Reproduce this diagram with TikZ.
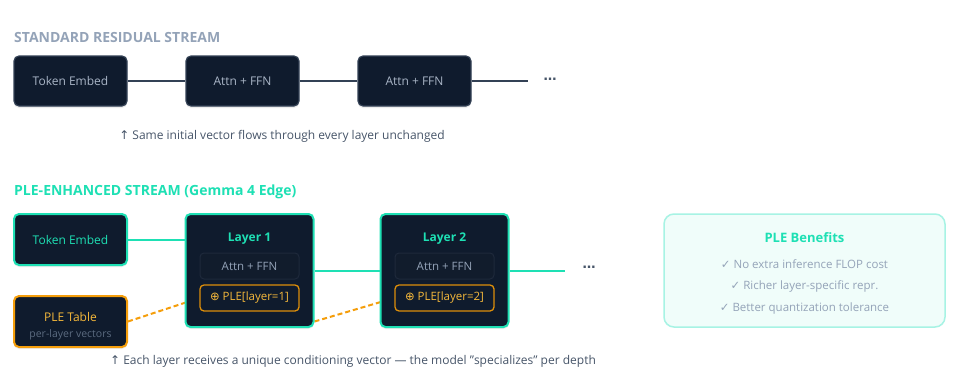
\documentclass[tikz,border=0pt]{standalone}
\usepackage{fontspec}
\setmainfont{Open Sans}
\newfontfamily\symf{DejaVu Sans}
\usetikzlibrary{backgrounds,calc,shadows}
\definecolor{navy}{HTML}{0F1B2D}
\definecolor{slateb}{HTML}{334155}
\definecolor{slatet}{HTML}{475569}
\definecolor{grayt}{HTML}{94A3B8}
\definecolor{teal}{HTML}{1EE0B4}
\definecolor{orng}{HTML}{F59E0B}
\definecolor{amber}{HTML}{F6B93B}
\definecolor{mint}{HTML}{F0FDFA}
\definecolor{mintb}{HTML}{A7F3E4}
\definecolor{innerb}{HTML}{1E293B}
\definecolor{innerf}{HTML}{111C2C}
\definecolor{dimt}{HTML}{5B6B80}
\tikzset{
  x=1pt,y=-1pt,
  softshadow/.style={drop shadow={shadow xshift=0pt,shadow yshift=-2pt,opacity=0.15}},
  stdbox/.style={draw=slateb,line width=1.2pt,fill=navy,rounded corners=5pt,minimum width=113pt,minimum height=50pt,inner sep=0pt,text=grayt!80!white,font=\fontsize{12}{14}\selectfont,softshadow},
  tealbox/.style={draw=teal,line width=2pt,fill=navy,rounded corners=5pt,inner sep=0pt,softshadow},
  orbox/.style={draw=orng,line width=2pt,fill=navy,rounded corners=5pt,inner sep=0pt,softshadow},
  innerbox/.style={draw=innerb,line width=1pt,fill=innerf,rounded corners=4pt,minimum width=99pt,minimum height=26pt,inner sep=0pt,text=grayt,font=\fontsize{11.5}{13}\selectfont},
  plebox/.style={draw=orng!90!black,line width=1.3pt,fill=navy,rounded corners=4pt,minimum width=99pt,minimum height=26pt,inner sep=0pt,text=amber,font=\fontsize{11.5}{13}\selectfont},
  sectitle/.style={anchor=west,inner sep=0pt,font=\bfseries\fontsize{14}{16}\selectfont},
  captxt/.style={inner sep=0pt,text=slatet,font=\fontsize{12}{14}\selectfont},
  stdline/.style={draw=slateb,line width=2pt},
  tealline/.style={draw=teal,line width=2pt},
  pledash/.style={draw=orng,line width=2pt,dash pattern=on 5pt off 3pt},
  benitem/.style={inner sep=0pt,text=grayt,font=\fontsize{11.5}{13}\selectfont},
  dotstxt/.style={inner sep=0pt,text=slatet,font=\bfseries\fontsize{13}{15}\selectfont}
}
\begin{document}
\begin{tikzpicture}
\useasboundingbox (0,0) rectangle (960,367);
% ---- standard residual stream
\node[sectitle,text=grayt] (t1) at (14,37) {STANDARD RESIDUAL STREAM};
\node[stdbox] (te1) at (70.5,81) {Token Embed};
\node[stdbox] (a1) at (242.5,81) {Attn + FFN};
\node[stdbox] (a2) at (414.5,81) {Attn + FFN};
\coordinate (e1) at (528,81);
\node[dotstxt] (d1) at (550,79) {\symf …};
\node[captxt] (c1) at (282,136) {{\symf ↑} Same initial vector flows through every layer unchanged};
% ---- PLE-enhanced stream
\node[sectitle,text=teal] (t2) at (14,192) {PLE-ENHANCED STREAM (Gemma 4 Edge)};
\node[tealbox,minimum width=113pt,minimum height=51pt,text=teal,font=\fontsize{12}{14}\selectfont] (te2) at (70.5,239.5) {Token Embed};
\node[tealbox,minimum width=128pt,minimum height=113pt] (L1) at (249.5,270.5) {};
\node[inner sep=0pt,text=teal,font=\bfseries\fontsize{12}{14}\selectfont] (L1t) at (249.5,239) {Layer 1};
\node[innerbox] (L1a) at (249.5,266) {Attn + FFN};
\node[plebox] (L1p) at (249.5,298) {{\symf ⊕} PLE[layer=1]};
\node[tealbox,minimum width=128pt,minimum height=113pt] (L2) at (444.5,270.5) {};
\node[inner sep=0pt,text=teal,font=\bfseries\fontsize{12}{14}\selectfont] (L2t) at (444.5,239) {Layer 2};
\node[innerbox] (L2a) at (444.5,266) {Attn + FFN};
\node[plebox] (L2p) at (444.5,298) {{\symf ⊕} PLE[layer=2]};
\coordinate (e2) at (565,270.5);
\node[dotstxt] (d2) at (589,267) {\symf …};
\node[orbox,minimum width=113pt,minimum height=51pt] (plet) at (70.5,321.5) {};
\node[inner sep=0pt,text=amber,font=\fontsize{12}{14}\selectfont] (pletA) at (70.5,317) {PLE Table};
\node[inner sep=0pt,text=dimt,font=\fontsize{10.5}{12}\selectfont] (pletB) at (70.5,335) {per-layer vectors};
\coordinate (d2s) at (L1.east |- plet.east);
\node[captxt] (c2) at (353,361) {{\symf ↑} Each layer receives a unique conditioning vector — the model "specializes" per depth};
% ---- benefits
\node[draw=mintb,line width=1.5pt,fill=mint,rounded corners=10pt,minimum width=281pt,minimum height=113pt,inner sep=0pt] (ben) at (804.5,270.5) {};
\node[inner sep=0pt,text=teal,font=\bfseries\fontsize{13}{15}\selectfont] (bt) at (804.5,238) {PLE Benefits};
\node[benitem] (b1) at (804.5,264) {{\symf ✓} No extra inference FLOP cost};
\node[benitem] (b2) at (804.5,286) {{\symf ✓} Richer layer-specific repr.};
\node[benitem] (b3) at (804.5,309) {{\symf ✓} Better quantization tolerance};
% ---- connectors behind boxes
\begin{scope}[on background layer]
\fill[white] (0,0) rectangle (960,367);
\draw[stdline] (te1.east) -- (a1.west);
\draw[stdline] (a1.east) -- (a2.west);
\draw[stdline] (a2.east) -- (e1);
\draw[tealline] (te2.east) -- (te2.east -| L1.west);
\draw[tealline] (L1.east) -- (L2.west);
\draw[tealline] (L2.east) -- (e2);
\draw[pledash] (plet.east) -- (L1p.west);
\draw[pledash] (d2s) -- (L2p.west);
\end{scope}
\end{tikzpicture}
\end{document}
